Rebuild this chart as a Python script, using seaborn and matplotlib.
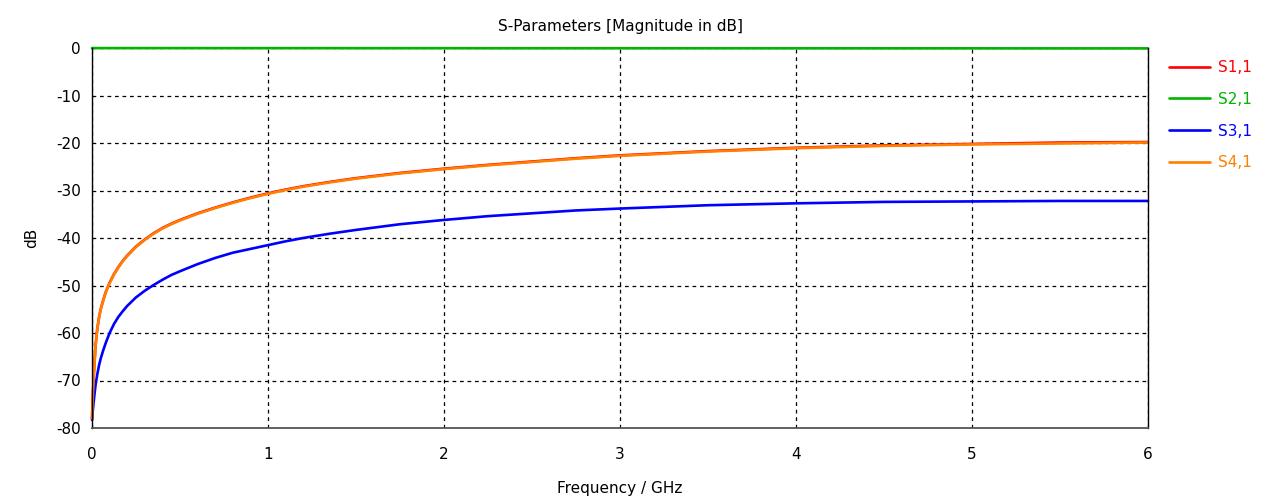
import matplotlib
matplotlib.use("Agg")
import matplotlib.pyplot as plt
import seaborn as sns
import pandas as pd

# Frequency sweep (GHz) and S-parameter magnitudes (dB)
freq_ghz = [0.0, 0.005, 0.01, 0.02, 0.03, 0.04, 0.05, 0.065, 0.08, 0.1, 0.125,
            0.15, 0.175, 0.2, 0.25, 0.3, 0.35, 0.4, 0.45, 0.5, 0.6, 0.7, 0.8,
            0.9, 1.0, 1.1, 1.2, 1.35, 1.5, 1.75, 2.0, 2.25, 2.5, 2.75, 3.0,
            3.5, 4.0, 4.5, 5.0, 5.5, 6.0]

s11_db = [-77.9, -72.9, -68.9, -62.7, -59.1, -56.7, -54.9, -52.9, -51.2, -49.4,
          -47.6, -46.1, -44.8, -43.7, -41.8, -40.3, -39.0, -37.9, -37.0, -36.2,
          -34.8, -33.6, -32.5, -31.5, -30.6, -29.8, -29.1, -28.2, -27.4, -26.3,
          -25.4, -24.6, -23.9, -23.2, -22.6, -21.7, -21.0, -20.5, -20.2, -19.9,
          -19.8]

s21_db = [-0.02, -0.02, -0.02, -0.02, -0.02, -0.02, -0.02, -0.02, -0.02, -0.02,
          -0.02, -0.02, -0.02, -0.02, -0.02, -0.02, -0.02, -0.02, -0.02, -0.02,
          -0.02, -0.03, -0.03, -0.03, -0.03, -0.03, -0.03, -0.03, -0.04, -0.04,
          -0.04, -0.05, -0.05, -0.05, -0.05, -0.06, -0.06, -0.07, -0.07, -0.08,
          -0.08]

s31_db = [-78.3, -76.2, -74.3, -71.0, -68.7, -66.8, -65.3, -63.5, -61.9, -60.0,
          -58.1, -56.6, -55.4, -54.3, -52.5, -51.1, -49.9, -48.8, -47.8, -47.0,
          -45.5, -44.2, -43.1, -42.3, -41.5, -40.7, -40.0, -39.1, -38.3, -37.1,
          -36.2, -35.4, -34.8, -34.2, -33.8, -33.1, -32.7, -32.4, -32.3, -32.2,
          -32.2]

s41_db = [-78.0, -73.0, -69.0, -62.8, -59.2, -56.8, -55.0, -53.0, -51.3, -49.5,
          -47.7, -46.2, -44.9, -43.8, -41.9, -40.4, -39.1, -38.0, -37.1, -36.3,
          -34.9, -33.7, -32.6, -31.6, -30.7, -29.9, -29.2, -28.3, -27.5, -26.4,
          -25.5, -24.7, -24.0, -23.3, -22.7, -21.8, -21.1, -20.6, -20.3, -20.1,
          -19.9]

params = ["S1,1", "S2,1", "S3,1", "S4,1"]
colors = {"S1,1": "#ff0000", "S2,1": "#00b400", "S3,1": "#0000ff", "S4,1": "#ff8000"}

x_ticks = [0, 1, 2, 3, 4, 5, 6]
y_ticks = [0, -10, -20, -30, -40, -50, -60, -70, -80]

df = pd.concat([
    pd.DataFrame({"Frequency": freq_ghz, "dB": vals, "Parameter": name})
    for name, vals in zip(params, [s11_db, s21_db, s31_db, s41_db])
], ignore_index=True)

sns.set_theme(style="white")
plt.rcParams["font.family"] = ["DejaVu Sans"]
plt.rcParams["font.size"] = 11

fig = plt.figure(figsize=(12.74, 4.97), dpi=100)
ax = fig.add_axes([92 / 1274, 1 - 428 / 497, (1148 - 92) / 1274, (428 - 48) / 497])

sns.lineplot(data=df, x="Frequency", y="dB", hue="Parameter", hue_order=params,
             palette=colors, linewidth=1.9, legend=False, ax=ax, sort=False,
             estimator=None)
for line in ax.get_lines():
    line.set_clip_on(False)

ax.set_xlim(0, 6)
ax.set_ylim(-80, 0)
ax.set_xticks(x_ticks)
ax.set_yticks(y_ticks)
ax.set_xticklabels([str(t) for t in x_ticks])
ax.set_yticklabels([str(t) for t in y_ticks])

ax.grid(True, color="black", linestyle=(0, (3, 3)), linewidth=0.9)
ax.set_axisbelow(True)

for side in ["left", "right"]:
    ax.spines[side].set_color("black")
    ax.spines[side].set_linewidth(1.0)
ax.spines["bottom"].set_color("#555555")
ax.spines["bottom"].set_linewidth(1.3)
ax.spines["top"].set_visible(False)

ax.tick_params(axis="both", direction="out", length=4, width=1, color="black",
               labelsize=11, labelcolor="black", pad=4)
ax.tick_params(axis="x", pad=10)

ax.set_title("S-Parameters [Magnitude in dB]", fontsize=11, color="black", pad=12)
ax.set_xlabel("Frequency / GHz", fontsize=11, color="black", labelpad=13)
ax.set_ylabel("dB", fontsize=11, color="black", labelpad=12)

handles = ax.get_lines()[:4]
leg = fig.legend(handles, params, loc="upper left",
                 bbox_to_anchor=(1169 / 1274, 1 - 60 / 497), frameon=False,
                 handlelength=2.7, handletextpad=0.5, labelspacing=1.1,
                 borderpad=0, borderaxespad=0, fontsize=11, labelcolor="linecolor")

fig.savefig("out.png", dpi=100)
